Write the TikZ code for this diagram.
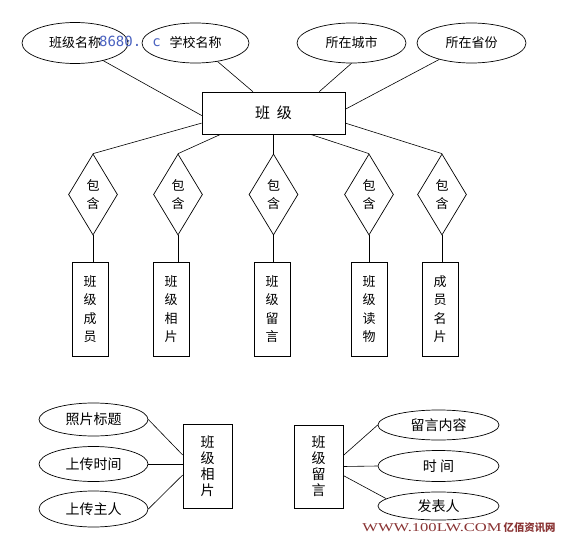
\documentclass[tikz,border=0pt]{standalone}
\usepackage{fontspec}
\usepackage{tikz}
\usetikzlibrary{shapes.geometric}
\setmainfont{Noto Sans CJK SC}
\newfontfamily\serifmarca{Liberation Serif}
\newfontfamily\monomarca{DejaVu Sans Mono}
\definecolor{rojoMarca}{HTML}{8A3434}
\definecolor{azulMarca}{HTML}{4A62C0}

\begin{document}
\begin{tikzpicture}[x=1pt, y=-1pt,
    atributo/.style={ellipse, draw, line width=0.7pt, inner sep=0pt, font=\fontsize{13}{15}\selectfont},
    atributob/.style={atributo, minimum width=109pt, font=\fontsize{14}{16}\selectfont},
    entidad/.style={rectangle, draw, line width=0.7pt, inner sep=0pt, align=center, minimum width=36pt, minimum height=94pt, font=\fontsize{13}{18.5}\selectfont},
    entidadb/.style={entidad, minimum width=49pt, minimum height=84pt, font=\fontsize{14}{16}\selectfont},
    relacion/.style={diamond, draw, line width=0.7pt, inner sep=0pt, aspect=0.6, minimum width=49pt, minimum height=81pt, align=center, font=\fontsize{13}{18}\selectfont},
    enlace/.style={line width=0.6pt}
  ]
  \useasboundingbox[fill=white] (0,0) rectangle (576,543);

  % Parte superior: entidad y sus atributos
  \node[entidad, minimum width=143pt, minimum height=42pt, font=\fontsize{15}{17}\selectfont] (banji) at (273.5,113) {班\hspace{7pt}级};
  \node[atributo, minimum width=106pt, minimum height=41pt] (bjmc) at (75,43) {班级名称};
  \node[atributo, minimum width=107pt, minimum height=40pt] (xxmc) at (195.5,43) {学校名称};
  \node[atributo, minimum width=109pt, minimum height=40pt] (szcs) at (351.5,43) {所在城市};
  \node[atributo, minimum width=109pt, minimum height=40pt] (szsf) at (471.5,43) {所在省份};
  \node[font=\monomarca\fontsize{14}{14}\selectfont, text=azulMarca, inner sep=0pt] (marcaAzul) at (130,41) {8680. c};

  \draw[enlace] (bjmc.-32) -- (banji.182);
  \draw[enlace] (xxmc.-40) -- (banji.134);
  \draw[enlace] (szcs.south) -- (banji.25);
  \draw[enlace] (szsf.207) -- (banji.3);

  % Relaciones y entidades
  \foreach \x [count=\i] in {93,178,273.5,369,442}
    \node[relacion] (bh\i) at (\x,194.5) {包\\含};
  \foreach \x/\t [count=\i] in {90/{班\\级\\成\\员}, 171/{班\\级\\相\\片}, 272/{班\\级\\留\\言}, 369/{班\\级\\读\\物}, 440/{成\\员\\名\\片}}
    \node[entidad] (st\i) at (\x,309) {\t};

  \draw[enlace] (banji.188) -- (bh1.north);
  \draw[enlace] (banji.202) -- (bh2.north);
  \draw[enlace] (banji.south) -- (bh3.north);
  \draw[enlace] (banji.-30) -- (bh4.north);
  \draw[enlace] (banji.-8) -- (bh5.north);
  \foreach \i in {1,...,5}
    \draw[enlace] (bh\i.south) -- (bh\i.south |- st\i.north);

  % Parte inferior izquierda: 班级相片
  \node[entidadb] (xp) at (207.5,466) {班\\级\\相\\片};
  \node[atributob, minimum height=33pt] (a1) at (93.5,419.5) {照片标题};
  \node[atributob, minimum height=35pt] (a2) at (93.5,464) {上传时间};
  \node[atributob, minimum height=36pt] (a3) at (93.5,509) {上传主人};
  \draw[enlace] (a1.east) -- (xp.156);
  \draw[enlace] (a2.east) -- (a2.east -| xp.west);
  \draw[enlace] (a3.east) -- (xp.200);

  % Parte inferior derecha: 班级留言
  \node[entidadb, minimum height=83pt] (ly) at (318.5,466.5) {班\\级\\留\\言};
  \node[atributob, minimum width=121pt, minimum height=30pt] (b1) at (438.5,425) {留言内容};
  \node[atributob, minimum width=121pt, minimum height=31pt] (b2) at (438.5,466) {时 间};
  \node[atributob, minimum width=121pt, minimum height=28pt] (b3) at (438.5,506) {发表人};
  \draw[enlace] (ly.24) -- (b1.west);
  \draw[enlace] (ly.east) -- (b2.west);
  \draw[enlace] (ly.-20) -- (b3.172);

  \node[text=rojoMarca, inner sep=0pt] (marcaRoja) at (459,528)
    {\serifmarca\fontsize{12}{12}\selectfont\scalebox{1.38}[1]{WWW.100LW.COM}\,{\rmfamily\fontsize{10.4}{11}\selectfont\bfseries 亿佰资讯网}};
\end{tikzpicture}
\end{document}
